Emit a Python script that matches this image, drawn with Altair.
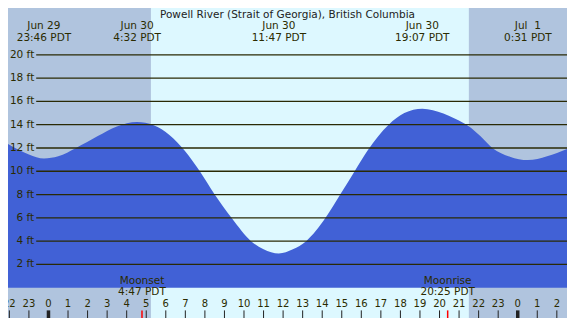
import altair as alt
import pandas as pd

# ---- data ----
# hours relative to Jun 30 00:00 PDT, water level in ft
tide_hours = [-2.07, -1.0, -0.23, 0.5, 1.41, 2.5, 3.5, 4.53, 5.38, 6.2, 6.96, 7.74, 8.5,
              9.36, 10.36, 11.0, 11.78, 12.5, 13.18, 14.17, 14.92, 15.66, 16.33, 17.4,
              18.2, 19.12, 20.2, 20.8, 21.46, 22.1, 22.7, 23.6, 24.52, 25.5, 26.52]
tide_ft = [12.35, 11.45, 11.1, 11.28, 12.0, 13.0, 13.85, 14.23, 13.96, 13.1, 11.79, 10.0, 8.0,
           6.0, 4.0, 3.3, 2.94, 3.3, 4.0, 6.0, 8.0, 10.0, 11.8, 14.0,
           15.0, 15.37, 14.95, 14.5, 13.9, 13.0, 12.0, 11.25, 10.96, 11.3, 11.92]

extreme_hours = [-0.233, 4.533, 11.783, 19.117, 24.517]
extreme_dates = ["Jun 29", "Jun 30", "Jun 30", "Jun 30", "Jul \u00a01"]
extreme_times = ["23:46 PDT", "4:32 PDT", "11:47 PDT", "19:07 PDT", "0:31 PDT"]

sun_hours = [5.24, 21.5]          # sunrise, sunset
moon_hours = [4.783, 20.417]
moon_names = ["Moonset", "Moonrise"]
moon_times = ["4:47 PDT", "20:25 PDT"]

grid_ft = [2, 4, 6, 8, 10, 12, 14, 16, 18, 20]
grid_labels = [f"{v} ft" for v in grid_ft]

tick_hours = list(range(-2, 27))
tick_labels = [str(h % 24) for h in tick_hours]

title = "Powell River (Strait of Georgia), British Columbia"

# ---- layout ----
W, H = 559, 310
sx, sy = W / 575, H / 326
XD = [-2.07, 26.52]
YD = [-2.6, 24.02]
FONT = "DejaVu Sans"
TXT = "#2b2b00"
FS = 10.5

xs = alt.Scale(domain=XD, nice=False, zero=False)
ys = alt.Scale(domain=YD, nice=False, zero=False)

tide_df = pd.DataFrame({"h": tide_hours, "ft": tide_ft})
ext_df = pd.DataFrame({"h": extreme_hours, "d": extreme_dates, "t": extreme_times})
sun_df = pd.DataFrame({"h": [sun_hours[0]], "h2": [sun_hours[1]]})
moon_df = pd.DataFrame({"h": moon_hours, "n": moon_names, "t": moon_times})
grid_df = pd.DataFrame({"ft": grid_ft, "lab": grid_labels})
tick_df = pd.DataFrame({"h": tick_hours, "lab": tick_labels,
                        "mid": [h % 24 == 0 for h in tick_hours]})

X = lambda f="h": alt.X(f"{f}:Q", scale=xs, axis=None)

day = alt.Chart(sun_df).mark_rect(color="#ddf8ff").encode(
    x=X(), x2="h2:Q", y=alt.value(0), y2=alt.value(H))

area = alt.Chart(tide_df).mark_area(color="#4161d6", interpolate="monotone", clip=True).encode(
    x=X(), y=alt.Y("ft:Q", scale=ys, axis=None), y2=alt.value(H))

grid = alt.Chart(grid_df).mark_rule(color="#2a2a05", strokeWidth=1.3).encode(
    y=alt.Y("ft:Q", scale=ys, axis=None), x=alt.value(29 * sx), x2=alt.value(W))

grid_text = alt.Chart(grid_df).mark_text(align="right", baseline="middle", font=FONT,
                                         fontSize=FS, color=TXT).encode(
    y=alt.Y("ft:Q", scale=ys, axis=None), x=alt.value(27 * sx), text="lab:N")

title_t = alt.Chart(pd.DataFrame({"t": [title]})).mark_text(
    font=FONT, fontSize=FS, color="#222222", baseline="middle").encode(
    x=alt.value(W / 2), y=alt.value(7 * sy), text="t:N")

ext_d = alt.Chart(ext_df).mark_text(font=FONT, fontSize=FS, color=TXT, baseline="middle").encode(
    x=X(), y=alt.value(18.5 * sy), text="d:N")
ext_t = alt.Chart(ext_df).mark_text(font=FONT, fontSize=FS, color=TXT, baseline="middle").encode(
    x=X(), y=alt.value(31.5 * sy), text="t:N")

moon_n = alt.Chart(moon_df).mark_text(font=FONT, fontSize=FS, color=TXT, baseline="middle").encode(
    x=X(), y=alt.value(287 * sy), text="n:N")
moon_t = alt.Chart(moon_df).mark_text(font=FONT, fontSize=FS, color=TXT, baseline="middle").encode(
    x=X(), y=alt.value(299 * sy), text="t:N")

ticks = alt.Chart(tick_df).mark_rule(color="#222222").encode(
    x=X(), y=alt.value(318 * sy), y2=alt.value(H),
    strokeWidth=alt.condition("datum.mid", alt.value(3.5), alt.value(1)))

moon_ticks = alt.Chart(moon_df).mark_rule(color="#ff0000", strokeWidth=1.5).encode(
    x=X(), y=alt.value(318 * sy), y2=alt.value(H))

tick_text = alt.Chart(tick_df).mark_text(font=FONT, fontSize=10, color=TXT,
                                         baseline="middle").encode(
    x=X(), y=alt.value(311.5 * sy), text="lab:N")

chart = alt.layer(day, area, grid, grid_text, title_t, ext_d, ext_t, moon_n, moon_t,
                  ticks, moon_ticks, tick_text).properties(
    width=W, height=H, background="#b0c4de", padding=0,
    autosize=alt.AutoSizeParams(type="none")
).configure_view(stroke=None, fill="#b0c4de")

chart.save("out.html", embed_options={"renderer": "svg", "actions": False})
